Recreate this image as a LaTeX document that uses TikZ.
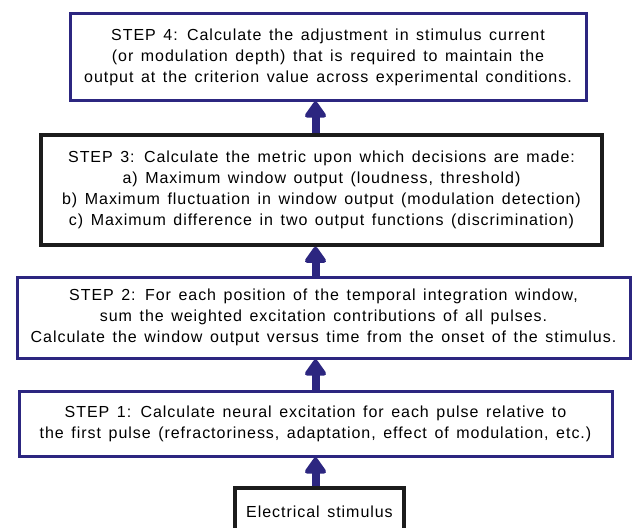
\documentclass[tikz,border=0pt]{standalone}
\usepackage{fontspec}
\setmainfont[LetterSpace=6,WordSpace=1.4]{Liberation Sans}
\usetikzlibrary{arrows.meta}
\definecolor{stepblue}{RGB}{44,38,128}
\definecolor{boxblack}{RGB}{28,28,28}

\begin{document}
\begin{tikzpicture}[x=1pt,y=-1pt,
    every node/.style={font=\fontsize{16}{21}\selectfont, align=center, inner sep=0pt},
    box/.style 2 args={draw=stepblue, line width=3pt, minimum width=#1, minimum height=#2},
    kbox/.style 2 args={draw=boxblack, line width=3.5pt, minimum width=#1, minimum height=#2},
    flow/.style={stepblue, line width=8pt, -{Triangle[length=18pt,width=24pt,round]}}]
        \useasboundingbox (0,0) rectangle (634,527);
        \node[box={516pt}{86pt}] (s4) at (328,57) {STEP 4: Calculate the adjustment in stimulus current\\(or modulation depth) that is required to maintain the\\output at the criterion value across experimental conditions.};
        \node[kbox={561pt}{110pt}] (s3) at (321.5,190) {STEP 3: Calculate the metric upon which decisions are made:\\a) Maximum window output (loudness, threshold)\\b) Maximum fluctuation in window output (modulation detection)\\c) Maximum difference in two output functions (discrimination)};
        \node[box={613pt}{81pt}] (s2) at (323.5,317.5) {STEP 2: For each position of the temporal integration window,\\sum the weighted excitation contributions of all pulses.\\Calculate the window output versus time from the onset of the stimulus.};
        \node[box={593pt}{65pt}] (s1) at (315.5,423.5) {STEP 1: Calculate neural excitation for each pulse relative to\\the first pulse (refractoriness, adaptation, effect of modulation, etc.)};
        \node[kbox={169pt}{48pt}] (stim) at (319.5,512) {Electrical stimulus};
        \coordinate (ax) at (315.5,0);
        \draw[flow] (stim.north -| ax) -- (s1.south -| ax);
        \draw[flow] (s1.north -| ax) -- (s2.south -| ax);
        \draw[flow] (s2.north -| ax) -- (s3.south -| ax);
        \draw[flow] (s3.north -| ax) -- (s4.south -| ax);
    \end{tikzpicture}
\end{document}
